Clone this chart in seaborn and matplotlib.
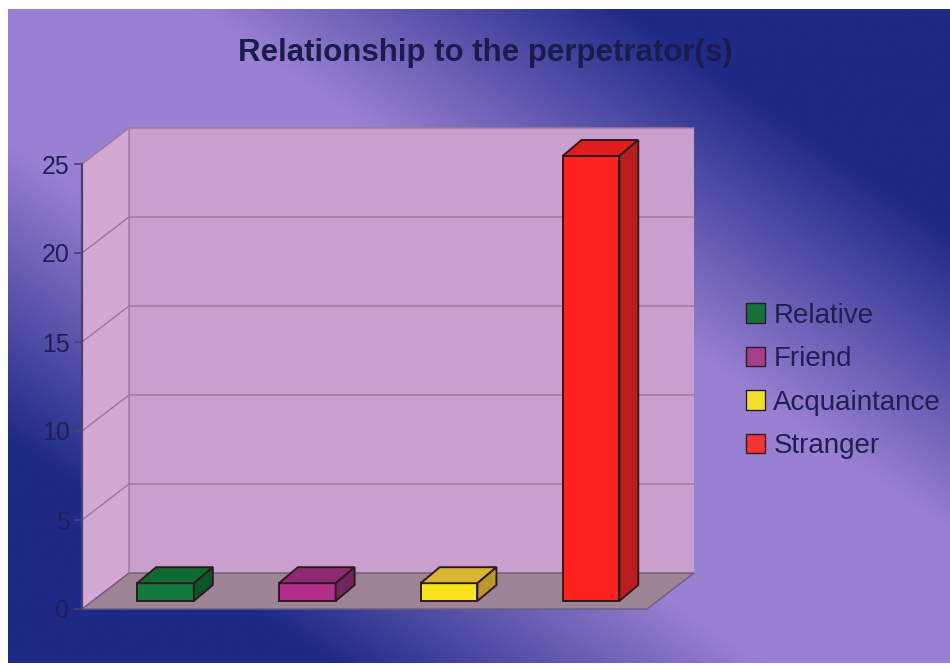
import numpy as np
import pandas as pd
import matplotlib
matplotlib.use('Agg')
from matplotlib import pyplot as plt
from matplotlib.patches import Polygon, Rectangle, Patch
import matplotlib.colors as mcolors
import seaborn as sns

# chart data
categories = ['Relative', 'Friend', 'Acquaintance', 'Stranger']
counts = [1, 1, 1, 25]
yticks = [0, 5, 10, 15, 20, 25]
title = 'Relationship to the perpetrator(s)'

# colours of the faces of the 3D bars
front_colors = ['#137a3c', '#b22f8c', '#fbe21e', '#ff2020']
top_colors = ['#0f6a32', '#8e2a74', '#d9b531', '#e01c1c']
side_colors = ['#0b5428', '#6e2560', '#b99a28', '#b81e1e']
legend_colors = ['#17703c', '#a53f86', '#f2e02e', '#f23434']

df = pd.DataFrame({'relationship': categories, 'count': counts})

sns.set_theme(style='white')
plt.rcParams['font.family'] = ['Liberation Sans', 'DejaVu Sans']

W, H = 950, 666
fig = plt.figure(figsize=(W / 100, H / 100), dpi=100, facecolor='white')

# background: diagonal two colour gradient (light band on the main diagonal, navy corners)
bg = fig.add_axes([8 / W, 3 / H, 942 / W, 654 / H])
light = np.array(mcolors.to_rgb('#9a80d2'))
dark = np.array(mcolors.to_rgb('#1e2a86'))
xs = np.linspace(0, 1, 480)
ys = np.linspace(0, 1, 330)
u = xs[None, :] - ys[:, None]
s = np.clip((np.abs(u) - 0.2) / 0.46, 0, 1)
img = light[None, None, :] * (1 - s)[..., None] + dark[None, None, :] * s[..., None]
bg.imshow(img, aspect='auto', extent=(0, 1, 0, 1))
bg.axis('off')

# main axes = front plane of the 3D box
x0, x1 = -0.525, 3.459
ytop = 25
ax = fig.add_axes([82 / W, 1 - 609 / H, 565 / W, 445 / H])
ax.set_facecolor('none')

sns.barplot(data=df, x='relationship', y='count', hue='relationship', palette=front_colors,
            saturation=1, width=0.4, edgecolor='#2e1a1e', linewidth=1.4, legend=False,
            ax=ax, zorder=3)
bars = list(ax.patches)

ax.set_xlim(x0, x1)
ax.set_ylim(0, ytop)

# pixel offsets -> data units
kx = (x1 - x0) / 565
ky = ytop / 445
bx, by = 47 * kx, 36 * ky     # back wall
pdx, pdy = 9 * kx, 8 * ky     # plane where the bars stand
ddx, ddy = 19 * kx, 16 * ky   # depth of a bar

# walls and floor
ax.add_patch(Rectangle((x0 + bx, by), x1 - x0, ytop, facecolor='#cb9fcd', edgecolor='none',
                       zorder=0.5, clip_on=False))
ax.add_patch(Polygon([(x0, 0), (x0, ytop), (x0 + bx, ytop + by), (x0 + bx, by)],
                     facecolor='#d3a8d3', edgecolor='none', zorder=0.6, clip_on=False))
ax.add_patch(Polygon([(x0, 0), (x1, 0), (x1 + bx, by), (x0 + bx, by)],
                     facecolor='#9d8494', edgecolor='#6d5c80', linewidth=1, zorder=0.7, clip_on=False))
for v in yticks[1:]:
    ax.plot([x0, x0 + bx, x1 + bx], [v, v + by, v + by], color='#9b7b9f', lw=1.1,
            zorder=0.8, clip_on=False)
ax.plot([x0 + bx, x0 + bx], [by, ytop + by], color='#9b7b9f', lw=1.1, zorder=0.8, clip_on=False)

# 3D bars: shift the front faces, then add top and side faces
for i, p in enumerate(bars):
    p.set_clip_on(False)
    p.set_x(p.get_x() + pdx)
    p.set_y(p.get_y() + pdy)
    bl = p.get_x()
    br = bl + p.get_width()
    b0 = p.get_y()
    h = b0 + p.get_height()
    ax.add_patch(Polygon([(bl, h), (br, h), (br + ddx, h + ddy), (bl + ddx, h + ddy)],
                         facecolor=top_colors[i], edgecolor='#2e1a1e', linewidth=1.4,
                         zorder=3, clip_on=False))
    ax.add_patch(Polygon([(br, b0), (br + ddx, b0 + ddy), (br + ddx, h + ddy), (br, h)],
                         facecolor=side_colors[i], edgecolor='#2e1a1e', linewidth=1.4,
                         zorder=3, clip_on=False))

# axis styling
ax.set_xticks([])
ax.set_xlabel('')
ax.set_ylabel('')
ax.set_yticks(yticks)
ax.tick_params(axis='y', left=True, length=6, width=1.2, color='#4f3f6e', pad=3,
               labelsize=18, labelcolor='#1f1f55')
for side in ['top', 'right', 'bottom']:
    ax.spines[side].set_visible(False)
ax.spines['left'].set_color('#4f3f6e')
ax.spines['left'].set_linewidth(1.6)

# legend
handles = [Patch(facecolor=c, edgecolor='#2a1a2a', linewidth=1) for c in legend_colors]
fig.legend(handles, categories, loc='center left', bbox_to_anchor=(735 / W, 1 - 381 / H),
           frameon=False, fontsize=20, handlelength=0.68, handleheight=0.68,
           handletextpad=0.3, labelspacing=0.63, labelcolor='#1f1f55', borderaxespad=0)

fig.text(485 / W, 1 - 53 / H, title, ha='center', va='center', fontsize=22.5,
         fontweight='bold', color='#1b1b4d')

fig.savefig('out.png', dpi=100)
